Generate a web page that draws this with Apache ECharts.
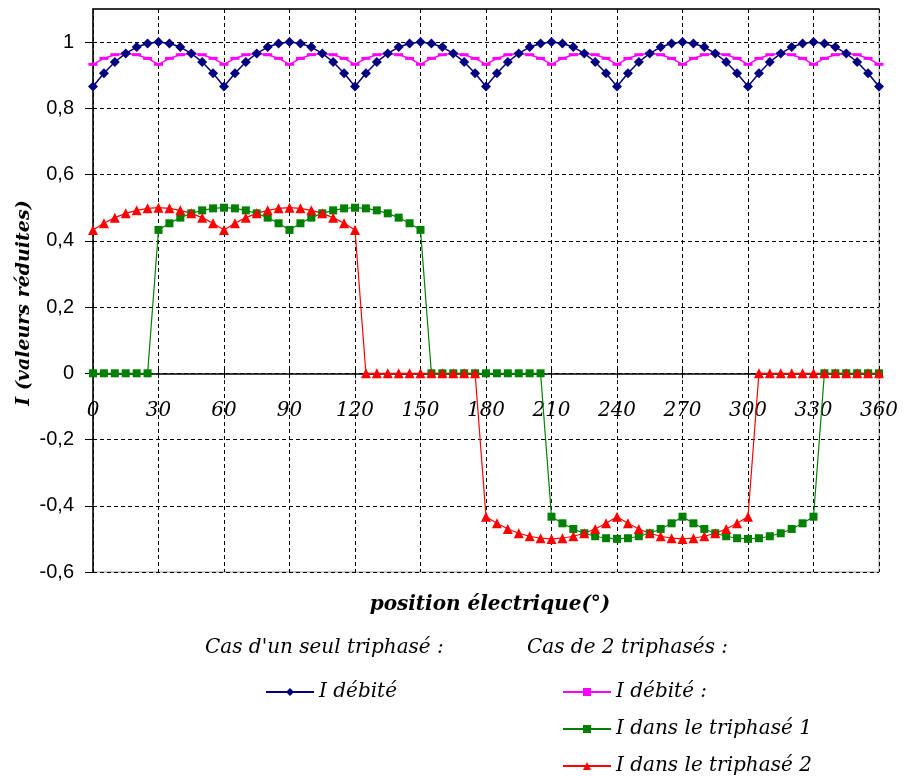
<!DOCTYPE html>
<html>
<head>
<meta charset="utf-8">
<script src="https://cdn.jsdelivr.net/npm/echarts@6/dist/echarts.min.js"></script>
<style>html,body{margin:0;padding:0;background:#fff;}#c{width:903px;height:776px;}</style>
</head>
<body>
<div id="c"></div>
<script>
// ---- data ----
const angles = [0,5,10,15,20,25,30,35,40,45,50,55,60,65,70,75,80,85,90,95,100,105,110,115,120,125,130,135,140,145,150,155,160,165,170,175,180,185,190,195,200,205,210,215,220,225,230,235,240,245,250,255,260,265,270,275,280,285,290,295,300,305,310,315,320,325,330,335,340,345,350,355,360];

// Cas d'un seul triphasé : I débité
const iDebite1 = [
0.866,0.906,0.940,0.966,0.985,0.996,1.000,0.996,0.985,0.966,0.940,0.906,
0.866,0.906,0.940,0.966,0.985,0.996,1.000,0.996,0.985,0.966,0.940,0.906,
0.866,0.906,0.940,0.966,0.985,0.996,1.000,0.996,0.985,0.966,0.940,0.906,
0.866,0.906,0.940,0.966,0.985,0.996,1.000,0.996,0.985,0.966,0.940,0.906,
0.866,0.906,0.940,0.966,0.985,0.996,1.000,0.996,0.985,0.966,0.940,0.906,
0.866,0.906,0.940,0.966,0.985,0.996,1.000,0.996,0.985,0.966,0.940,0.906,
0.866];

// Cas de 2 triphasés : I débité
const iDebite2 = [
0.933,0.951,0.962,0.966,0.962,0.951,0.933,0.951,0.962,0.966,0.962,0.951,
0.933,0.951,0.962,0.966,0.962,0.951,0.933,0.951,0.962,0.966,0.962,0.951,
0.933,0.951,0.962,0.966,0.962,0.951,0.933,0.951,0.962,0.966,0.962,0.951,
0.933,0.951,0.962,0.966,0.962,0.951,0.933,0.951,0.962,0.966,0.962,0.951,
0.933,0.951,0.962,0.966,0.962,0.951,0.933,0.951,0.962,0.966,0.962,0.951,
0.933,0.951,0.962,0.966,0.962,0.951,0.933,0.951,0.962,0.966,0.962,0.951,
0.933];

// I dans le triphasé 1
const iTri1 = [
0,0,0,0,0,0,
0.433,0.453,0.470,0.483,0.492,0.498,0.500,0.498,0.492,0.483,0.470,0.453,
0.433,0.453,0.470,0.483,0.492,0.498,0.500,0.498,0.492,0.483,0.470,0.453,0.433,
0,0,0,0,0,0,0,0,0,0,0,
-0.433,-0.453,-0.470,-0.483,-0.492,-0.498,-0.500,-0.498,-0.492,-0.483,-0.470,-0.453,
-0.433,-0.453,-0.470,-0.483,-0.492,-0.498,-0.500,-0.498,-0.492,-0.483,-0.470,-0.453,-0.433,
0,0,0,0,0,0];

// I dans le triphasé 2
const iTri2 = [
0.433,0.453,0.470,0.483,0.492,0.498,0.500,0.498,0.492,0.483,0.470,0.453,
0.433,0.453,0.470,0.483,0.492,0.498,0.500,0.498,0.492,0.483,0.470,0.453,0.433,
0,0,0,0,0,0,0,0,0,0,0,
-0.433,-0.453,-0.470,-0.483,-0.492,-0.498,-0.500,-0.498,-0.492,-0.483,-0.470,-0.453,
-0.433,-0.453,-0.470,-0.483,-0.492,-0.498,-0.500,-0.498,-0.492,-0.483,-0.470,-0.453,-0.433,
0,0,0,0,0,0,0,0,0,0,0,0];

const xTicks = [0,30,60,90,120,150,180,210,240,270,300,330,360];
const yTicks = [-0.6,-0.4,-0.2,0,0.2,0.4,0.6,0.8,1];

const names = {
  d1: 'I débité',
  d2: 'I débité :',
  t1: 'I dans le triphasé 1',
  t2: 'I dans le triphasé 2'
};
const texts = {
  xTitle: 'position électrique(°)',
  yTitle: 'I (valeurs réduites)',
  head1: "Cas d'un seul triphasé :",
  head2: 'Cas de 2 triphasés :'
};

// ---- chart ----
const pairs = arr => angles.map((a, i) => [a, arr[i]]);
const fmtY = v => {
  let s = (Math.round(v * 10) / 10).toFixed(1);
  if (s.endsWith('.0')) s = s.slice(0, -2);
  if (s === '-0') s = '0';
  return s.replace('.', ',');
};
const serif = 'DejaVu Serif';
const dash = { type: [4, 3], color: '#000', width: 1 };
const GRID = { left: 93, right: 24, top: 9, bottom: 204 };
const H = 776;

const chart = echarts.init(document.getElementById('c'), null, { renderer: 'canvas' });
const option = {
  animation: false,
  backgroundColor: '#fff',
  grid: Object.assign({ show: true, borderColor: '#999', borderWidth: 1 }, GRID),
  xAxis: [
    {
      type: 'value', min: 0, max: 360, interval: 30, position: 'bottom', offset: 0,
      axisLine: { show: true, onZero: false, lineStyle: { color: '#000', width: 1.5 } },
      axisTick: { show: true, length: 5, lineStyle: { color: '#000' }, customValues: xTicks },
      axisLabel: { customValues: xTicks, margin: 28, fontFamily: serif, fontStyle: 'italic', fontSize: 20, color: '#000', showMinLabel: true, showMaxLabel: true },
      splitLine: { show: true, lineStyle: dash }
    },
    {
      type: 'value', min: 0, max: 360, interval: 30, position: 'bottom', offset: 0,
      axisLine: { show: false, onZero: false },
      axisTick: { show: true, inside: true, length: 5, lineStyle: { color: '#000' }, customValues: xTicks },
      axisLabel: { show: false },
      splitLine: { show: false }
    },
    {
      type: 'value', min: 0, max: 360, interval: 30, position: 'top',
      axisLine: { show: true, onZero: false, lineStyle: { color: '#000', width: 1.5 } },
      axisTick: { show: false },
      axisLabel: { show: false },
      splitLine: { show: false }
    }
  ],
  yAxis: [
    {
      type: 'value', min: -0.6, max: 1.1, interval: 0.2, position: 'left',
      axisLine: { show: true, onZero: false, lineStyle: { color: '#000', width: 1.5 } },
      axisTick: { show: true, length: 8, lineStyle: { color: '#000' }, customValues: yTicks },
      axisLabel: { customValues: yTicks, formatter: fmtY, margin: 19, fontFamily: 'Liberation Sans', fontSize: 20, color: '#000' },
      splitLine: { show: true, lineStyle: dash }
    },
    {
      type: 'value', min: -0.6, max: 1.1, interval: 0.2, position: 'left',
      axisLine: { show: false, onZero: false },
      axisTick: { show: true, inside: true, length: 4, lineStyle: { color: '#000' }, customValues: yTicks },
      axisLabel: { show: false },
      splitLine: { show: false }
    }
  ],
  legend: [
    {
      data: [names.d1], left: 265, top: 682, padding: 0, itemWidth: 48, itemHeight: 10,
      textStyle: { fontFamily: serif, fontStyle: 'italic', fontSize: 20, color: '#000' }
    },
    {
      data: [names.d2, names.t1, names.t2], orient: 'vertical', left: 562, top: 682, padding: 0,
      itemWidth: 48, itemHeight: 10, itemGap: 17,
      textStyle: { fontFamily: serif, fontStyle: 'italic', fontSize: 20, color: '#000' }
    }
  ],
  graphic: [
    { type: 'text', x: 490, y: 605, style: { text: texts.xTitle, font: 'italic bold 20px "DejaVu Serif"', fill: '#000', textAlign: 'center', textVerticalAlign: 'middle' } },
    { type: 'text', x: 24, y: 303, rotation: Math.PI / 2, style: { text: texts.yTitle, font: 'italic bold 19px "DejaVu Serif"', fill: '#000', textAlign: 'center', textVerticalAlign: 'middle' } },
    { type: 'text', x: 205, y: 648, style: { text: texts.head1, font: 'italic 20px "DejaVu Serif"', fill: '#000', textAlign: 'left', textVerticalAlign: 'middle' } },
    { type: 'text', x: 527, y: 648, style: { text: texts.head2, font: 'italic 20px "DejaVu Serif"', fill: '#000', textAlign: 'left', textVerticalAlign: 'middle' } }
  ],
  series: [
    {
      name: names.d2, type: 'line', data: pairs(iDebite2),
      symbol: 'rect', symbolSize: [9, 3], showAllSymbol: true,
      lineStyle: { color: '#FF00FF', width: 1.5 }, itemStyle: { color: '#FF00FF' }
    },
    {
      name: names.d1, type: 'line', data: pairs(iDebite1),
      symbol: 'diamond', symbolSize: 10, showAllSymbol: true,
      lineStyle: { color: '#000080', width: 1.5 }, itemStyle: { color: '#000080' }
    },
    {
      name: names.t1, type: 'line', data: pairs(iTri1),
      symbol: 'rect', symbolSize: 8, showAllSymbol: true,
      lineStyle: { color: '#008000', width: 1.2 }, itemStyle: { color: '#008000' }
    },
    {
      name: names.t2, type: 'line', data: pairs(iTri2),
      symbol: 'triangle', symbolSize: 10, showAllSymbol: true,
      lineStyle: { color: '#FF0000', width: 1.2 }, itemStyle: { color: '#FF0000' }
    }
  ]
};
chart.setOption(option);
// place the horizontal axis on the value 0 of the vertical scale
const zeroY = chart.convertToPixel({ yAxisIndex: 0 }, 0);
const offsetX = zeroY - (H - GRID.bottom);
chart.setOption({ xAxis: [{ offset: offsetX }, { offset: offsetX }, {}] });
</script>
</body>
</html>
